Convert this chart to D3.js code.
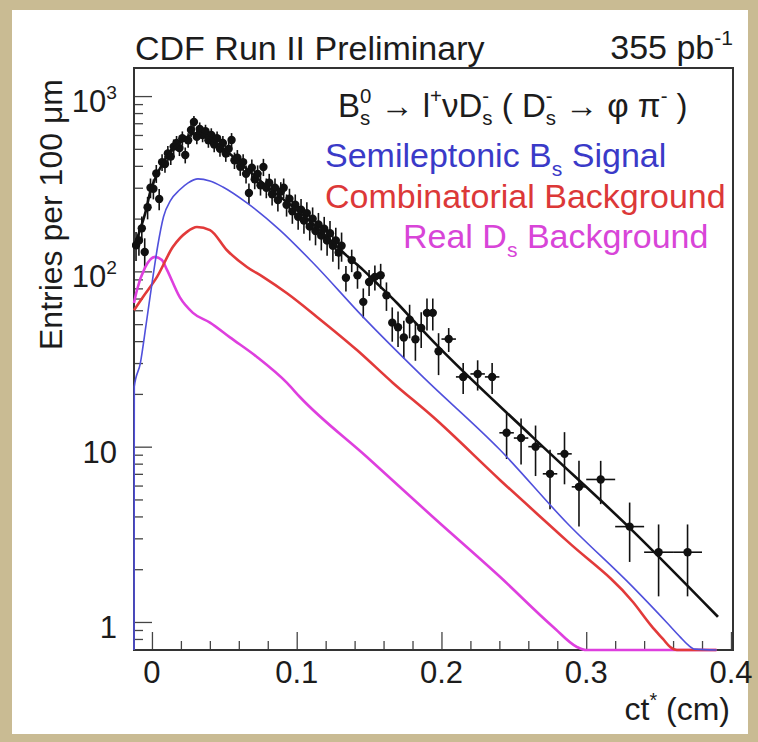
<!DOCTYPE html>
<html>
<head>
<meta charset="utf-8">
<script src="https://cdn.jsdelivr.net/npm/d3@7"></script>
<style>
  html, body { margin: 0; padding: 0; background: #c9bb93; }
  svg { display: block; font-family: "Liberation Sans", Arial, Helvetica, sans-serif; }
</style>
</head>
<body>
<svg id="chart" width="758" height="742"></svg>
<script>
// data points: bin centre (cm), entries per 100 um, error, half bin width
var dataCt = [-0.011, -0.009, -0.007, -0.005, -0.003, -0.001, 0.001, 0.003, 0.005, 0.007,
  0.009, 0.011, 0.013, 0.015, 0.017, 0.019, 0.021, 0.023, 0.025, 0.027,
  0.029, 0.031, 0.033, 0.035, 0.037, 0.039, 0.041, 0.043, 0.045, 0.047,
  0.049, 0.051, 0.053, 0.055, 0.057, 0.059, 0.061, 0.063, 0.065, 0.067,
  0.069, 0.071, 0.073, 0.075, 0.077, 0.079, 0.081, 0.083, 0.085, 0.087,
  0.089, 0.091, 0.093, 0.095, 0.097, 0.099, 0.101, 0.103, 0.105, 0.107,
  0.109, 0.111, 0.113, 0.115, 0.117, 0.119, 0.121, 0.123, 0.125, 0.127,
  0.129, 0.131,
  0.134, 0.138, 0.142, 0.146, 0.150, 0.154, 0.158, 0.162, 0.166, 0.170,
  0.174, 0.178, 0.182, 0.186, 0.190, 0.194, 0.198,
  0.205, 0.215, 0.225, 0.235, 0.245, 0.255, 0.265, 0.275, 0.285, 0.295,
  0.31, 0.33, 0.35, 0.37]
var dataEntries = [141, 150, 176, 129, 232, 300, 296, 362, 259, 420,
  410, 470, 452, 515, 540, 505, 575, 461, 560, 640,
  711, 585, 650, 600, 630, 560, 600, 530, 575, 500,
  540, 470, 500, 562, 430, 445, 395, 420, 360, 280,
  390, 335, 360, 310, 394, 300, 320, 275, 300, 255,
  285, 300, 240, 260, 220, 240, 205, 225, 195, 215,
  180, 200, 170, 185, 160, 175, 150, 165, 140, 150,
  128, 140,
  92, 116, 95, 67, 87, 93, 95, 73, 51, 48,
  42, 53, 41, 47.5, 58, 58, 35,
  41.1, 25, 26, 25, 12, 11.2, 10, 7, 9.1, 5.9,
  6.5, 3.5, 2.5, 2.5]
var dataErr = [26.5, 27.4, 29.7, 25.4, 34, 38.7, 38.5, 42.5, 36, 45.8,
  45.3, 48.5, 47.5, 50.7, 52, 50.2, 53.6, 48, 52.9, 56.6,
  59.6, 54.1, 57, 54.8, 56.1, 52.9, 54.8, 51.5, 53.6, 50,
  52, 48.5, 50, 53, 46.4, 47.2, 44.4, 45.8, 42.4, 37.4,
  44.2, 40.9, 42.4, 39.4, 44.4, 38.7, 40, 37.1, 38.7, 35.7,
  37.7, 38.7, 34.6, 36.1, 33.2, 34.6, 32, 33.5, 31.2, 32.8,
  30, 31.6, 29.2, 30.4, 28.3, 29.6, 27.4, 28.7, 26.5, 27.4,
  25.3, 26.5,
  15.2, 17, 15.4, 12.9, 14.7, 15.2, 15.4, 13.5, 11.3, 11,
  10.2, 11.5, 10.1, 10.9, 12, 12, 9.4,
  6.4, 5, 5.1, 5, 3.5, 3.3, 3.2, 2.6, 3.0, 2.4,
  1.8, 1.3, 1.1, 1.1]
var dataHalfBin = [0.001, 0.001, 0.001, 0.001, 0.001, 0.001, 0.001, 0.001, 0.001, 0.001,
  0.001, 0.001, 0.001, 0.001, 0.001, 0.001, 0.001, 0.001, 0.001, 0.001,
  0.001, 0.001, 0.001, 0.001, 0.001, 0.001, 0.001, 0.001, 0.001, 0.001,
  0.001, 0.001, 0.001, 0.001, 0.001, 0.001, 0.001, 0.001, 0.001, 0.001,
  0.001, 0.001, 0.001, 0.001, 0.001, 0.001, 0.001, 0.001, 0.001, 0.001,
  0.001, 0.001, 0.001, 0.001, 0.001, 0.001, 0.001, 0.001, 0.001, 0.001,
  0.001, 0.001, 0.001, 0.001, 0.001, 0.001, 0.001, 0.001, 0.001, 0.001,
  0.001, 0.001,
  0.002, 0.002, 0.002, 0.002, 0.002, 0.002, 0.002, 0.002, 0.002, 0.002,
  0.002, 0.002, 0.002, 0.002, 0.002, 0.002, 0.002,
  0.005, 0.005, 0.005, 0.005, 0.005, 0.005, 0.005, 0.005, 0.005, 0.005,
  0.01, 0.01, 0.01, 0.01]

// fitted curves
var fitCt = [-0.0124, -0.0083, -0.004, -0.0014, 0.003, 0.0076, 0.013, 0.0193, 0.025, 0.0311,
  0.038, 0.0449, 0.053, 0.0608, 0.069, 0.0767, 0.088, 0.1002, 0.112, 0.123,
  0.134, 0.1458, 0.157, 0.1693, 0.181, 0.1941, 0.2632, 0.3323, 0.391]
var fitTotal = [138, 172, 225, 280, 350, 415, 480, 540, 590, 616,
  590, 540, 475, 415, 362, 319, 268, 224, 184, 151,
  124, 102, 83, 66, 52, 40, 11.3, 3.3, 1.07]

var sigCt = [-0.0124, -0.0122, -0.008, -0.004, 0.0, 0.004, 0.008, 0.013, 0.019, 0.025,
  0.0318, 0.040, 0.049, 0.0656, 0.0884, 0.1112, 0.1458, 0.1872, 0.2404, 0.2867,
  0.3323, 0.3558, 0.365, 0.3703, 0.375, 0.39]
var sigVals = [0.5, 22, 30, 50, 85, 140, 205, 255, 291, 320,
  337, 328, 303, 246, 172, 112, 55, 25, 9.6, 3.67,
  1.58, 0.99, 0.82, 0.74, 0.7, 0.5]

var combCt = [-0.0124, -0.0062, 0.0035, 0.0145, 0.0242, 0.0311, 0.0401, 0.0518, 0.0656, 0.0767,
  0.0933, 0.114, 0.1416, 0.1665, 0.1941, 0.2404, 0.2867, 0.3323, 0.345, 0.353,
  0.358, 0.3627, 0.39]
var combVals = [60, 71.5, 93, 138, 168, 179, 172, 132, 106, 93,
  75, 55, 35.6, 23.1, 14.8, 6.46, 2.9, 1.3, 0.95, 0.8,
  0.72, 0.69, 0.5]

var realCt = [-0.0124, -0.0104, -0.0048, 0.0021, 0.0069, 0.0104, 0.0193, 0.0283, 0.0401, 0.0539,
  0.0725, 0.0933, 0.1022, 0.1485, 0.1941, 0.2404, 0.277, 0.2936, 0.30, 0.39]
var realVals = [66, 78, 105, 121, 116, 102, 71, 58, 51, 42,
  32.5, 23.1, 19.2, 8.73, 3.97, 1.81, 0.94, 0.72, 0.65, 0.5]

var xTicks = [0, 0.1, 0.2, 0.3, 0.4]
var xTickLabels = ['0', '0.1', '0.2', '0.3', '0.4']
var yTicks = [1, 10, 100, 1000]
var yTickLabels = ['1', '10', '10^2', '10^3']

var blue = '#5050dc', red = '#e23a3a', magenta = '#de3fde', ink = '#1c1c1c'

var svg = d3.select('#chart')
var padL = 134, padR = 733, padT = 68, padB = 650

svg.append('rect').attr('width', 758).attr('height', 742).attr('fill', '#c9bb93')
svg.append('rect').attr('x', 12).attr('y', 10).attr('width', 736).attr('height', 724).attr('fill', '#ffffff')

var x = d3.scaleLinear().domain([-0.0124, 0.4014]).range([padL, padR])
var yMin = 0.692
var y = d3.scaleLog().domain([yMin, 1446]).range([padB, padT])

// rich text helper: parts are [text], [text,'sup'], [text,'sub'], [sub,'stack',sup]
function rich(parent, px, py, size, color, anchor, parts) {
  var t = parent.append('text').attr('x', px).attr('y', py)
    .attr('font-size', size).attr('fill', color).attr('text-anchor', anchor)
  var shift = 0, extra = 0
  var small = size * 0.62
  parts.forEach(function (p) {
    var kind = p[1] || ''
    var s, ts
    if (kind === '') {
      ts = t.append('tspan').attr('dy', -shift).text(p[0]); shift = 0
    } else if (kind === 'sup') {
      s = -0.42 * size
      ts = t.append('tspan').attr('dy', s - shift).attr('font-size', small).text(p[0]); shift = s
    } else if (kind === 'sub') {
      s = 0.25 * size
      ts = t.append('tspan').attr('dy', s - shift).attr('font-size', small).text(p[0]); shift = s
    } else {
      var s1 = 0.25 * size, s2 = -0.42 * size
      var sub = t.append('tspan').attr('dy', s1 - shift).attr('font-size', small).text(p[0])
      if (extra) sub.attr('dx', extra)
      var w1 = sub.node().getComputedTextLength()
      var sup = t.append('tspan').attr('dx', -w1).attr('dy', s2 - s1).attr('font-size', small).text(p[2])
      var w2 = sup.node().getComputedTextLength()
      shift = s2
      extra = Math.max(0, w1 - w2)
      return
    }
    if (extra) { ts.attr('dx', extra); extra = 0 }
  })
  return t
}

// axes
var axisG = svg.append('g')
var xMinor = x.ticks(20).filter(function (d) { return xTicks.indexOf(+d.toFixed(3)) < 0 })
axisG.append('g').attr('transform', 'translate(0,' + padB + ')')
  .call(d3.axisBottom(x).tickValues(xMinor).tickSize(-9).tickFormat(''))
axisG.append('g').attr('transform', 'translate(0,' + padB + ')')
  .call(d3.axisBottom(x).tickValues(xTicks).tickSize(-18).tickFormat(''))
var yMinor = y.ticks().filter(function (d) { return yTicks.indexOf(d) < 0 })
axisG.append('g').attr('transform', 'translate(' + padL + ',0)')
  .call(d3.axisLeft(y).tickValues(yMinor).tickSize(-9).tickFormat(''))
axisG.append('g').attr('transform', 'translate(' + padL + ',0)')
  .call(d3.axisLeft(y).tickValues(yTicks).tickSize(-18).tickFormat(''))
axisG.selectAll('.domain').remove()
axisG.selectAll('line').attr('stroke', '#444').attr('stroke-width', 1.3)

svg.append('rect').attr('x', padL).attr('y', padT).attr('width', padR - padL).attr('height', padB - padT)
  .attr('fill', 'none').attr('stroke', '#333').attr('stroke-width', 2)

xTicks.forEach(function (d, i) {
  svg.append('text').attr('x', x(d)).attr('y', 683).attr('font-size', 31).attr('fill', ink)
    .attr('text-anchor', 'middle').text(xTickLabels[i])
})
yTicks.forEach(function (d, i) {
  var lab = yTickLabels[i].split('^')
  var parts = [[lab[0]]]
  if (lab[1]) parts.push([lab[1], 'sup'])
  rich(svg, 117, y(d) + 16, 31, ink, 'end', parts)
})

// data
var clip = svg.append('clipPath').attr('id', 'plotclip')
clip.append('rect').attr('x', padL - 2).attr('y', padT).attr('width', padR - padL + 2).attr('height', padB - padT + 2)
var plot = svg.append('g').attr('clip-path', 'url(#plotclip)')

var pts = dataCt.map(function (c, i) {
  return { c: c, v: dataEntries[i], e: dataErr[i], h: dataHalfBin[i] }
})
var pg = plot.append('g').attr('stroke', '#111').attr('stroke-width', 1.6)
pg.selectAll('.ev').data(pts).enter().append('line')
  .attr('x1', function (d) { return x(d.c) }).attr('x2', function (d) { return x(d.c) })
  .attr('y1', function (d) { return y(Math.max(d.v - d.e, yMin)) })
  .attr('y2', function (d) { return y(d.v + d.e) })
pg.selectAll('.eh').data(pts).enter().append('line')
  .attr('x1', function (d) { return x(d.c - d.h) }).attr('x2', function (d) { return x(d.c + d.h) })
  .attr('y1', function (d) { return y(d.v) }).attr('y2', function (d) { return y(d.v) })
plot.selectAll('circle').data(pts).enter().append('circle')
  .attr('cx', function (d) { return x(d.c) }).attr('cy', function (d) { return y(d.v) })
  .attr('r', 4.2).attr('fill', '#111')

var line = d3.line()
  .x(function (d) { return x(d[0]) })
  .y(function (d) { return y(Math.max(d[1], yMin)) })
  .curve(d3.curveMonotoneX)

function drawCurve(cts, vals, color, width) {
  plot.append('path').datum(cts.map(function (c, i) { return [c, vals[i]] }))
    .attr('d', line).attr('fill', 'none').attr('stroke', color).attr('stroke-width', width)
}
drawCurve(realCt, realVals, magenta, 2.6)
drawCurve(combCt, combVals, red, 2.6)
drawCurve(sigCt, sigVals, blue, 1.6)
drawCurve(fitCt, fitTotal, '#111', 2.6)

// texts
svg.append('text').attr('x', 135).attr('y', 60).attr('font-size', 34).attr('fill', ink).text('CDF Run II Preliminary')
rich(svg, 733, 59, 34, ink, 'start', [['355 pb'], ['-1', 'sup']]).attr('text-anchor', 'end')

rich(svg, 338, 117, 33, ink, 'start', [['B'], ['s', 'stack', '0'], [' \u2192 l'], ['+', 'sup'], ['\u03bdD'],
  ['s', 'stack', '-'], [' ( D'], ['s', 'stack', '-'], [' \u2192 \u03c6 \u03c0'], ['-', 'sup'], [' )']])
rich(svg, 325, 167, 34, '#3a3ac8', 'start', [['Semileptonic B'], ['s', 'sub'], [' Signal']])
svg.append('text').attr('x', 325).attr('y', 208).attr('font-size', 34).attr('fill', '#dc3838').text('Combinatorial Background')
rich(svg, 403, 248, 34, '#d845d8', 'start', [['Real D'], ['s', 'sub'], [' Background']])

rich(svg, 730, 720, 32, ink, 'end', [['ct'], ['*', 'sup'], [' (cm)']])
svg.append('text').attr('transform', 'translate(62,79) rotate(-90)').attr('text-anchor', 'end')
  .attr('font-size', 32).attr('fill', ink).text('Entries per 100 \u03bcm')
</script>
</body>
</html>
